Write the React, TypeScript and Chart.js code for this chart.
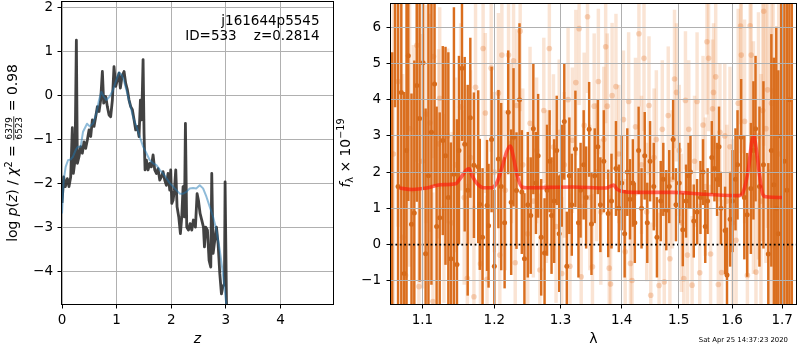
import React, { useEffect, useRef } from 'react';
import { Chart, registerables } from 'chart.js';
Chart.register(...registerables);

const FONT = "'DejaVu Sans', sans-serif";

// ---------- left panel: p(z) ----------
const pzZ = [0.000, 0.031, 0.061, 0.098, 0.128, 0.159, 0.189, 0.208, 0.238, 0.263,
  0.281, 0.311, 0.342, 0.372, 0.403, 0.433, 0.464, 0.495, 0.525, 0.556,
  0.586, 0.617, 0.647, 0.678, 0.708, 0.739, 0.763, 0.800, 0.830, 0.861,
  0.891, 0.922, 0.952, 0.983, 1.013, 1.044, 1.068, 1.099, 1.136, 1.166,
  1.197, 1.227, 1.258, 1.288, 1.319, 1.349, 1.380, 1.410, 1.435, 1.459,
  1.484, 1.502, 1.520, 1.545, 1.575, 1.606, 1.636, 1.667, 1.697, 1.728,
  1.758, 1.789, 1.819, 1.850, 1.880, 1.911, 1.941, 1.972, 1.990, 2.009,
  2.033, 2.057, 2.082, 2.106, 2.137, 2.167, 2.192, 2.216, 2.241, 2.259,
  2.283, 2.314, 2.344, 2.375, 2.405, 2.442, 2.473, 2.497, 2.527, 2.558,
  2.589, 2.607, 2.631, 2.662, 2.692, 2.723, 2.741, 2.766, 2.796, 2.827,
  2.857, 2.888, 2.918, 2.943, 2.973, 2.985, 3.010, 3.034];
const pzLog = [-2.45, -1.86, -2.08, -1.90, -2.08, -1.86, -0.74, -1.78, -1.48, 1.25,
  -1.55, -1.40, -1.17, -1.32, -1.06, -1.21, -1.02, -0.79, -0.94, -0.56,
  -0.71, -0.49, -0.26, -0.37, -0.11, 0.54, -0.18, -0.03, -0.26, -0.45,
  -0.49, -0.11, 0.65, 0.20, 0.35, 0.50, 0.16, 0.43, 0.54, 0.27,
  0.12, -0.11, -0.26, -0.33, -0.56, -0.79, -0.71, -0.94, -0.11, -0.56,
  0.81, -0.87, -1.70, -1.48, -1.70, -1.55, -1.63, -1.36, -1.70, -1.78,
  -1.67, -1.93, -1.86, -1.74, -1.93, -2.05, -1.78, -2.16, -1.70, -2.46,
  -2.39, -2.16, -1.70, -2.54, -2.77, -3.15, -2.77, -2.08, -2.77, -0.64,
  -3.00, -3.07, -2.92, -3.07, -2.84, -3.00, -2.24, -2.39, -2.69, -2.84,
  -3.00, -3.45, -3.00, -3.07, -3.76, -3.91, -1.78, -3.60, -3.30, -3.00,
  -3.38, -4.06, -4.52, -4.36, -4.29, -1.97, -4.67, -5.50];
const pzSmoothZ = [0.000, 0.031, 0.067, 0.110, 0.159, 0.201, 0.250, 0.293, 0.342, 0.385,
  0.458, 0.507, 0.568, 0.629, 0.678, 0.720, 0.763, 0.812, 0.873, 0.934,
  0.995, 1.044, 1.093, 1.129, 1.178, 1.239, 1.300, 1.361, 1.422, 1.484,
  1.545, 1.606, 1.667, 1.728, 1.789, 1.850, 1.911, 1.972, 2.033, 2.094,
  2.155, 2.216, 2.277, 2.338, 2.399, 2.460, 2.521, 2.582, 2.643, 2.705,
  2.766, 2.827, 2.888, 2.937, 2.985, 3.022];
const pzSmooth = [-2.69, -1.93, -1.63, -1.48, -1.46, -1.40, -1.25, -1.17, -1.17, -0.83,
  -0.65, -0.71, -0.64, -0.41, -0.11, 0.08, -0.03, -0.11, -0.03, 0.12,
  0.35, 0.52, 0.46, 0.35, 0.12, -0.18, -0.49, -0.71, -0.94, -1.17,
  -1.32, -1.48, -1.55, -1.59, -1.70, -1.78, -1.89, -2.00, -2.08, -2.16,
  -2.24, -2.24, -2.20, -2.12, -2.11, -2.12, -2.05, -2.12, -2.31, -2.54,
  -2.77, -3.07, -3.53, -3.98, -4.52, -4.90];
const zTicks = [0, 1, 2, 3, 4];
const logpTicks = [-4, -3, -2, -1, 0, 1, 2];

// ---------- right panel: spectrum ----------
const darkWave = [1.0605, 1.0641, 1.0680, 1.0722, 1.0760, 1.0790, 1.0813, 1.0855, 1.0892, 1.0925,
  1.0962, 1.1008, 1.1042, 1.1080, 1.1120, 1.1162, 1.1190, 1.1232, 1.1274, 1.1311,
  1.1350, 1.1385, 1.1427, 1.1469, 1.1497, 1.1539, 1.1577, 1.1619, 1.1656, 1.1707,
  1.1768, 1.1790, 1.1830, 1.1894, 1.1916, 1.1960, 1.2000, 1.2059, 1.2100, 1.2150,
  1.2203, 1.2247, 1.2282, 1.2326, 1.2371, 1.2406, 1.2445, 1.2496, 1.2540, 1.2580,
  1.2620, 1.2653, 1.2700, 1.2752, 1.2790, 1.2830, 1.2860, 1.2901, 1.2941, 1.2980,
  1.3020, 1.3060, 1.3100, 1.3140, 1.3179, 1.3237, 1.3286, 1.3320, 1.3370, 1.3410,
  1.3459, 1.3497, 1.3550, 1.3601, 1.3643, 1.3700, 1.3773, 1.3828, 1.3903, 1.3951,
  1.4000, 1.4050, 1.4095, 1.4141, 1.4190, 1.4224, 1.4289, 1.4340, 1.4395, 1.4440,
  1.4489, 1.4554, 1.4610, 1.4677, 1.4723, 1.4776, 1.4829, 1.4899, 1.4950, 1.5010,
  1.5074, 1.5134, 1.5180, 1.5215, 1.5276, 1.5337, 1.5400, 1.5448, 1.5490, 1.5534,
  1.5613, 1.5663, 1.5713, 1.5750, 1.5786, 1.5866, 1.5903, 1.5963, 1.6010, 1.6067,
  1.6107, 1.6178, 1.6240, 1.6296, 1.6369, 1.6420, 1.6462, 1.6540, 1.6620, 1.6718,
  1.6780, 1.6829, 1.6880, 1.6922, 1.6980, 1.7047, 1.7100, 1.7150, 1.7200];
const darkFlux = [-3.0, 8.0, 1.6, 4.2, -0.8, 2.6, 5.21, 0.56, 0.87, 4.39,
  3.48, 5.02, -0.25, 1.9, 3.1, 4.43, 0.50, 0.74, 2.87, 2.45,
  1.3, -0.39, 1.94, -0.55, 2.6, 4.87, 2.77, 1.5, 3.5, 2.19,
  2.15, 1.11, 0.2, 1.08, 0.52, 2.9, -0.6, 2.36, 1.6, 0.6,
  3.65, 1.17, 2.96, 1.49, 4.0, 1.45, -0.39, 1.1, 0.8, 3.2,
  1.7, 2.45, 0.2, -0.23, 1.5, 2.3, 0.8, 1.2, 2.6, 0.3,
  1.9, 3.4, -0.6, 1.9, 1.1, 2.64, 0.6, 1.5, 2.2, 1.3,
  3.18, 0.57, 1.9, 2.7, 1.1, 2.3, 0.86, 1.2, 2.1, 1.0,
  1.7, 0.3, 2.0, 1.25, 1.7, 0.6, 2.6, 1.0, 2.45, 0.6,
  2.3, 1.6, 0.2, 1.2, 1.8, 0.95, 1.6, 2.9, 1.1, 1.7,
  0.41, 1.2, 1.9, 2.0, 0.65, 0.9, 1.3, 2.0, 0.5, 1.2,
  2.4, 2.1, 1.8, 2.7, 1.0, 0.39, -0.84, 0.7, 1.2, 1.8,
  2.2, 2.96, 1.3, 0.82, 1.55, 2.6, 3.2, 1.6, 2.2, -0.26,
  2.6, 1.65, 1.0, 0.3, 3.0, 2.3, 1.5, 4.0, -2.0];
const darkErr = [8.3, 4.2, 9.0, 6.0, 5.0, 5.5, 4.0, 3.6, 4.2, 3.2,
  4.5, 3.5, 4.0, 5.0, 4.2, 2.8, 3.3, 2.9, 2.6, 3.0,
  4.0, 3.2, 4.6, 4.0, 2.6, 2.0, 2.4, 2.9, 2.2, 2.0,
  2.1, 1.8, 1.9, 1.8, 1.7, 2.0, 2.1, 1.9, 2.3, 1.8,
  1.7, 2.0, 1.9, 1.6, 2.1, 1.7, 1.8, 2.0, 1.6, 1.8,
  1.4, 1.7, 1.6, 1.5, 1.8, 1.4, 1.6, 1.7, 1.5, 1.6,
  1.4, 1.6, 1.5, 1.6, 1.4, 1.6, 1.5, 1.3, 1.5, 1.4,
  1.3, 1.4, 1.3, 1.3, 1.3, 1.4, 1.2, 1.3, 1.3, 1.2,
  1.3, 1.2, 1.2, 1.1, 1.2, 1.1, 1.2, 1.1, 1.2, 1.1,
  1.1, 1.2, 1.1, 1.1, 1.0, 1.1, 1.0, 1.1, 1.0, 1.1,
  1.0, 1.0, 0.9, 1.0, 1.0, 0.9, 1.0, 0.9, 1.0, 0.9,
  1.0, 0.9, 1.0, 1.1, 1.0, 1.2, 1.3, 1.3, 1.4, 1.4,
  1.5, 1.6, 1.7, 1.7, 1.8, 1.9, 2.0, 2.2, 2.3, 2.5,
  3.2, 3.5, 5.0, 4.5, 6.0, 7.0, 9.0, 9.0, 9.0];

const lightWave = [1.0620, 1.0680, 1.0740, 1.0777, 1.0830, 1.0880, 1.0925, 1.0953, 1.1000, 1.1050,
  1.1102, 1.1140, 1.1148, 1.1218, 1.1232, 1.1290, 1.1340, 1.1400, 1.1450, 1.1520,
  1.1570, 1.1614, 1.1660, 1.1707, 1.1730, 1.1800, 1.1838, 1.1870, 1.1894, 1.1954,
  1.2000, 1.2059, 1.2080, 1.2110, 1.2160, 1.2208, 1.2250, 1.2282, 1.2307, 1.2330,
  1.2381, 1.2420, 1.2495, 1.2530, 1.2580, 1.2630, 1.2680, 1.2740, 1.2780, 1.2826,
  1.2890, 1.2930, 1.2980, 1.3020, 1.3060, 1.3120, 1.3150, 1.3188, 1.3244, 1.3297,
  1.3330, 1.3378, 1.3432, 1.3470, 1.3513, 1.3541, 1.3580, 1.3610, 1.3650, 1.3700,
  1.3731, 1.3757, 1.3790, 1.3812, 1.3838, 1.3903, 1.3950, 1.4030, 1.4059, 1.4118,
  1.4150, 1.4176, 1.4236, 1.4295, 1.4340, 1.4383, 1.4430, 1.4470, 1.4501, 1.4560,
  1.4599, 1.4647, 1.4705, 1.4740, 1.4811, 1.4841, 1.4880, 1.4924, 1.4960, 1.5010,
  1.5050, 1.5092, 1.5123, 1.5160, 1.5184, 1.5245, 1.5290, 1.5337, 1.5387, 1.5448,
  1.5490, 1.5522, 1.5552, 1.5590, 1.5627, 1.5645, 1.5687, 1.5737, 1.5768, 1.5800,
  1.5860, 1.5900, 1.5960, 1.6010, 1.6079, 1.6120, 1.6166, 1.6180, 1.6245, 1.6300,
  1.6355, 1.6375, 1.6420, 1.6470, 1.6520, 1.6570, 1.6605, 1.6625, 1.6670, 1.6704,
  1.6760, 1.6783, 1.6817, 1.6870, 1.6930, 1.7000];
const lightFlux = [2.5, 4.5, 0.2, -0.85, 3.2, 1.5, 5.5, -1.16, 2.3, 3.6,
  3.36, -1.57, 5.19, 2.78, 4.04, 1.0, 3.0, 0.6, 2.2, 3.8,
  1.3, -0.93, 2.4, -1.44, 4.34, -0.53, 5.41, 3.63, -0.96, 4.87,
  2.0, 4.18, -0.29, 5.23, 1.5, 5.23, 2.8, 5.07, -0.5, 3.84,
  5.89, 2.2, 0.3, 3.35, 1.2, 2.6, -0.7, 3.7, 1.6, 5.41,
  2.69, 0.5, 3.1, -0.8, 2.2, 4.0, -0.6, 2.88, 4.47, 5.96,
  -0.89, 3.29, 6.29, 1.3, -0.61, 3.82, 2.0, 4.5, 0.9, 2.9,
  5.46, 3.82, -0.65, -1.09, 4.11, 4.36, 2.5, 3.45, -0.2, 3.95,
  -0.52, -0.99, 3.25, 5.82, 2.2, 5.14, 0.9, 3.84, -1.4, 2.4,
  2.9, -1.13, 3.18, -1.03, 3.56, -0.39, 1.8, 4.57, 4.2, 2.6,
  0.6, -0.94, 3.98, -0.29, 3.18, -1.12, 2.3, 3.95, -0.78, 3.3,
  1.6, 5.6, 5.14, -0.26, 3.75, 4.2, 4.63, -1.1, 3.1, -0.77,
  3.0, 1.2, 2.7, 0.6, 0.12, 3.9, 6.03, 5.23, 3.4, -0.85,
  6.04, 5.23, 2.4, -0.76, 3.0, 1.2, 3.7, 6.44, 3.2, 4.27,
  2.0, 3.9, 4.24, -1.1, 2.5, 1.0];
const lightErr = [5.0, 4.0, 4.5, 3.5, 3.8, 4.0, 3.2, 3.4, 3.5, 3.0,
  3.0, 3.0, 2.8, 2.6, 2.5, 2.6, 2.4, 2.5, 2.4, 2.3,
  2.4, 2.6, 2.4, 2.5, 2.4, 2.3, 2.4, 2.2, 2.3, 2.3,
  2.2, 2.2, 2.3, 2.2, 2.2, 2.1, 2.2, 2.2, 2.3, 2.1,
  2.2, 2.1, 2.1, 2.1, 2.1, 2.0, 2.1, 2.0, 2.1, 2.1,
  2.0, 2.1, 2.0, 2.1, 2.0, 2.0, 2.0, 2.0, 2.0, 2.1,
  2.0, 2.0, 2.1, 2.0, 2.0, 2.0, 1.9, 2.0, 2.0, 2.0,
  2.1, 2.0, 2.0, 2.0, 2.0, 2.0, 1.9, 1.9, 2.0, 1.9,
  1.9, 2.0, 1.9, 2.0, 1.9, 2.0, 1.9, 1.9, 2.0, 1.9,
  1.9, 2.0, 1.9, 1.9, 1.9, 1.9, 1.9, 1.9, 1.9, 1.8,
  1.9, 1.9, 1.9, 1.9, 1.9, 1.9, 1.8, 1.9, 1.9, 1.9,
  1.9, 2.0, 2.0, 1.9, 1.9, 1.9, 2.0, 2.0, 1.9, 2.0,
  2.0, 2.1, 2.2, 2.3, 2.5, 2.6, 2.7, 2.7, 2.8, 2.9,
  3.0, 3.1, 3.2, 3.2, 3.4, 3.5, 3.6, 3.7, 3.7, 3.8,
  4.0, 4.0, 4.2, 4.4, 4.7, 5.2];

const modelWave = [1.0697, 1.0869, 1.1056, 1.1242, 1.1451, 1.1521, 1.1591, 1.1637, 1.1684, 1.1754,
  1.1846, 1.1964, 1.2036, 1.2110, 1.2184, 1.2233, 1.2282, 1.2332, 1.2406, 1.2485,
  1.3188, 1.3730, 1.3866, 1.3920, 1.4000, 1.4176, 1.4882, 1.5492, 1.6112, 1.6178,
  1.6245, 1.6323, 1.6389, 1.6428, 1.6473, 1.6540, 1.6605, 1.6671, 1.7014];
const modelFlux = [1.56, 1.52, 1.56, 1.65, 1.68, 1.84, 2.04, 2.09, 1.89, 1.68,
  1.57, 1.57, 1.71, 2.12, 2.58, 2.72, 2.40, 1.94, 1.59, 1.57,
  1.59, 1.56, 1.64, 1.53, 1.47, 1.44, 1.44, 1.39, 1.35, 1.37,
  1.57, 2.12, 2.85, 2.99, 2.67, 1.94, 1.39, 1.32, 1.30];
const waveTicks = [1.1, 1.2, 1.3, 1.4, 1.5, 1.6, 1.7];
const fluxTicks = [-1, 0, 1, 2, 3, 4, 5, 6];

const WAVE_MIN = 1.0589;
const WAVE_MAX = 1.7288;

const fmtNum = (v: number, d = 0) => {
  const s = Math.abs(v).toFixed(d);
  return v < 0 ? '\u2212' + s : s;
};

function fixScale(w?: number, h?: number) {
  return (s: any) => {
    if (w !== undefined) s.width = w;
    if (h !== undefined) s.height = h;
    s.paddingTop = 0; s.paddingBottom = 0; s.paddingLeft = 0; s.paddingRight = 0;
  };
}

type Piece = { text?: string; font: string; dy?: number; num?: string; den?: string };

function pieceWidth(ctx: CanvasRenderingContext2D, p: Piece) {
  ctx.font = p.font;
  if (p.num !== undefined) {
    return Math.max(ctx.measureText(p.num).width, ctx.measureText(p.den || '').width) + 3;
  }
  return ctx.measureText(p.text || '').width;
}

function drawRotated(ctx: CanvasRenderingContext2D, pieces: Piece[], baseX: number, centerY: number) {
  ctx.save();
  ctx.translate(baseX, centerY);
  ctx.rotate(-Math.PI / 2);
  ctx.fillStyle = '#000';
  ctx.textBaseline = 'alphabetic';
  ctx.textAlign = 'left';
  const total = pieces.reduce((a, p) => a + pieceWidth(ctx, p), 0);
  let x = -total / 2;
  for (const p of pieces) {
    const w = pieceWidth(ctx, p);
    ctx.font = p.font;
    if (p.num !== undefined) {
      ctx.textAlign = 'center';
      ctx.fillText(p.num, x + w / 2, -4.6);
      ctx.fillText(p.den || '', x + w / 2, 5.0);
      ctx.textAlign = 'left';
      ctx.fillRect(x + 0.8, -3.6, w - 1.6, 0.8);
    } else {
      ctx.fillText(p.text || '', x, p.dy || 0);
    }
    x += w;
  }
  ctx.restore();
}

function drawBox(chart: any) {
  const { ctx, chartArea: a } = chart;
  ctx.save();
  ctx.strokeStyle = '#000';
  ctx.lineWidth = 1;
  ctx.strokeRect(Math.round(a.left) - 0.5, Math.round(a.top) - 0.5,
    Math.round(a.right) - Math.round(a.left) + 1, Math.round(a.bottom) - Math.round(a.top) + 1);
  ctx.restore();
}

const leftDecor = {
  id: 'leftDecor',
  afterDraw(chart: any) {
    const ctx = chart.ctx as CanvasRenderingContext2D;
    drawBox(chart);
    ctx.save();
    ctx.fillStyle = '#000';
    ctx.font = `13.5px ${FONT}`;
    ctx.textAlign = 'right';
    ctx.textBaseline = 'alphabetic';
    ctx.fillText('j161644p5545', 319.5, 24.5);
    ctx.fillText('ID=533    z=0.2814', 319.5, 39.5);
    ctx.restore();
    const big = `13.9px ${FONT}`;
    const it = `italic 13.9px ${FONT}`;
    const sm = `9.7px ${FONT}`;
    const fr = `8.8px ${FONT}`;
    drawRotated(ctx, [
      { text: 'log ', font: big },
      { text: 'p', font: it },
      { text: '(', font: big },
      { text: 'z', font: it },
      { text: ') / ', font: big },
      { text: '\u03c7', font: it },
      { text: '2', font: sm, dy: -5.5 },
      { text: ' = ', font: big },
      { num: '6379', den: '6523', font: fr },
      { text: ' = 0.98', font: big },
    ], 17, 153);
  },
};

const rightDecor = {
  id: 'rightDecor',
  afterDraw(chart: any) {
    const ctx = chart.ctx as CanvasRenderingContext2D;
    drawBox(chart);
    const big = `13.9px ${FONT}`;
    const it = `italic 13.9px ${FONT}`;
    const sm = `9.7px ${FONT}`;
    drawRotated(ctx, [
      { text: 'f', font: it },
      { text: '\u03bb', font: sm, dy: 3 },
      { text: ' \u00d7 10', font: big },
      { text: '\u221219', font: sm, dy: -6 },
    ], 15.5, 153);
    ctx.save();
    ctx.fillStyle = '#000';
    ctx.font = `6.9px ${FONT}`;
    ctx.textAlign = 'right';
    ctx.textBaseline = 'alphabetic';
    ctx.fillText('Sat Apr 25 14:37:23 2020', 788 - 334, 342);
    ctx.restore();
  },
};

const tickFont = { family: FONT, size: 13.5 };

export default function App() {
  const leftRef = useRef<HTMLCanvasElement>(null);
  const rightRef = useRef<HTMLCanvasElement>(null);

  useEffect(() => {
    const left = new Chart(leftRef.current as HTMLCanvasElement, {
      type: 'line',
      data: {
        datasets: [
          {
            label: 'smooth',
            data: pzSmoothZ.map((z, i) => ({ x: z, y: pzSmooth[i] })),
            borderColor: 'rgba(31,119,180,0.5)',
            borderWidth: 2,
            pointRadius: 0,
            borderJoinStyle: 'round',
            order: 0,
          },
          {
            label: 'pz',
            data: pzZ.map((z, i) => ({ x: z, y: pzLog[i] })),
            borderColor: 'rgba(45,45,45,0.9)',
            borderWidth: 2.8,
            pointRadius: 0,
            borderJoinStyle: 'round',
            order: 1,
          },
        ],
      } as any,
      options: {
        animation: false,
        responsive: false,
        events: [],
        layout: { padding: { left: 0, right: 7, top: 2, bottom: 0 } },
        plugins: { legend: { display: false }, tooltip: { enabled: false } },
        scales: {
          x: {
            type: 'linear', min: 0, max: 4.96,
            afterBuildTicks: (s: any) => { s.ticks = zTicks.map((v) => ({ value: v })); },
            afterFit: fixScale(undefined, 46),
            grid: { color: '#b0b0b0', lineWidth: 1, tickColor: '#000', tickLength: 4.5 },
            border: { display: false },
            ticks: { color: '#000', font: tickFont, padding: 4, maxRotation: 0, autoSkip: false,
              callback: (v: any) => fmtNum(Number(v)) },
            title: { display: true, text: 'z', color: '#000',
              font: { family: FONT, size: 14, style: 'italic' }, padding: { top: 0, bottom: 2 } },
          },
          y: {
            type: 'linear', min: -4.75, max: 2.12,
            afterBuildTicks: (s: any) => { s.ticks = logpTicks.map((v) => ({ value: v })); },
            afterFit: fixScale(62, undefined),
            grid: { color: '#b0b0b0', lineWidth: 1, tickColor: '#000', tickLength: 4.5 },
            border: { display: false },
            ticks: { color: '#000', font: tickFont, padding: 4.5, autoSkip: false,
              callback: (v: any) => fmtNum(Number(v)) },
          },
        },
      } as any,
      plugins: [leftDecor],
    });

    const right = new Chart(rightRef.current as HTMLCanvasElement, {
      type: 'line',
      data: {
        datasets: [
          {
            type: 'line',
            label: 'model',
            data: modelWave.map((w, i) => ({ x: w, y: modelFlux[i] })),
            borderColor: 'rgba(255,20,10,0.62)',
            borderWidth: 3.6,
            pointRadius: 0,
            cubicInterpolationMode: 'monotone',
            borderJoinStyle: 'round',
            order: 0,
          },
          {
            type: 'line',
            label: 'zero',
            data: [{ x: WAVE_MIN, y: 0 }, { x: WAVE_MAX, y: 0 }],
            borderColor: '#000',
            borderWidth: 1.6,
            borderDash: [1.8, 2.6],
            pointRadius: 0,
            order: 1,
          },
          {
            type: 'scatter',
            label: 'dark points',
            data: darkWave.map((w, i) => ({ x: w, y: darkFlux[i] })),
            backgroundColor: 'rgb(214,106,26)',
            borderWidth: 0,
            pointRadius: 2.5,
            order: 2,
          },
          {
            type: 'bar',
            label: 'dark errors',
            data: darkWave.map((w, i) => ({ x: w, y: [darkFlux[i] - darkErr[i], darkFlux[i] + darkErr[i]] })),
            backgroundColor: 'rgb(218,110,30)',
            borderWidth: 0,
            barThickness: 1.8,
            grouped: false,
            order: 3,
          },
          {
            type: 'scatter',
            label: 'light points',
            data: lightWave.map((w, i) => ({ x: w, y: lightFlux[i] })),
            backgroundColor: 'rgba(228,120,45,0.3)',
            borderWidth: 0,
            pointRadius: 2.8,
            order: 4,
          },
          {
            type: 'bar',
            label: 'light errors',
            data: lightWave.map((w, i) => ({ x: w, y: [lightFlux[i] - lightErr[i], lightFlux[i] + lightErr[i]] })),
            backgroundColor: 'rgba(232,130,60,0.22)',
            borderWidth: 0,
            barThickness: 2.8,
            grouped: false,
            order: 5,
          },
        ],
      } as any,
      options: {
        animation: false,
        responsive: false,
        events: [],
        layout: { padding: { left: 0, right: 1, top: 2, bottom: 0 } },
        plugins: { legend: { display: false }, tooltip: { enabled: false } },
        scales: {
          x: {
            type: 'logarithmic', min: WAVE_MIN, max: WAVE_MAX, offset: false,
            afterBuildTicks: (s: any) => { s.ticks = waveTicks.map((v) => ({ value: v })); },
            afterFit: fixScale(undefined, 46),
            grid: { color: '#b0b0b0', lineWidth: 1, tickColor: '#000', tickLength: 4.5, offset: false, z: 1 },
            border: { display: false },
            ticks: { color: '#000', font: tickFont, padding: 4, maxRotation: 0, autoSkip: false,
              callback: (v: any) => Number(v).toFixed(1) },
            title: { display: true, text: '\u03bb', color: '#000',
              font: { family: FONT, size: 14 }, padding: { top: 0, bottom: 2 } },
          },
          y: {
            type: 'linear', min: -1.64, max: 6.64, beginAtZero: false,
            afterBuildTicks: (s: any) => { s.ticks = fluxTicks.map((v) => ({ value: v })); },
            afterFit: fixScale(57, undefined),
            grid: {
              color: (c: any) => (c.tick && c.tick.value === 0 ? 'rgba(0,0,0,0)' : '#b0b0b0'),
              lineWidth: 1, tickColor: '#000', tickLength: 4.5, z: 1,
            },
            border: { display: false },
            ticks: { color: '#000', font: tickFont, padding: 5.5, autoSkip: false,
              callback: (v: any) => fmtNum(Number(v)) },
          },
        },
      } as any,
      plugins: [rightDecor],
    });

    return () => { left.destroy(); right.destroy(); };
  }, []);

  return (
    <div style={{ position: 'fixed', left: 0, top: 0, width: 800, height: 350, background: '#fff', overflow: 'hidden' }}>
      <canvas ref={leftRef} width={340} height={350} style={{ position: 'absolute', left: 0, top: 0 }} />
      <canvas ref={rightRef} width={466} height={350} style={{ position: 'absolute', left: 334, top: 0 }} />
    </div>
  );
}
